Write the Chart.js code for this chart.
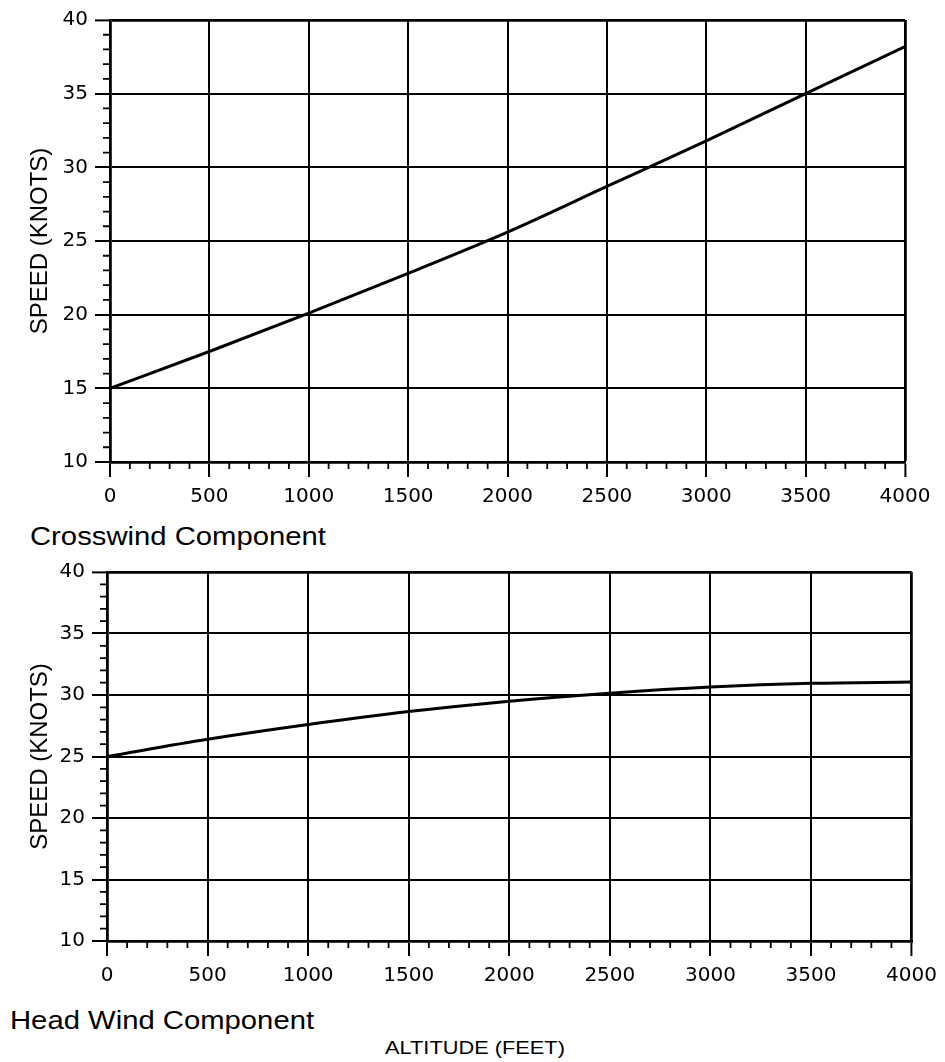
<!DOCTYPE html>
<html>
<head>
<meta charset="utf-8">
<script src="https://cdn.jsdelivr.net/npm/chart.js@4.4.1/dist/chart.umd.min.js"></script>
<style>
  html, body { margin: 0; padding: 0; background: #fff; }
  body { width: 945px; height: 1062px; position: relative; overflow: hidden;
         font-family: "Liberation Sans", Arial, sans-serif; color: #000; }
  canvas { position: absolute; left: 0; }
  #crosswind { top: 0; }
  #headwind { top: 540px; }
  .caption { position: absolute; white-space: nowrap; line-height: 1; transform-origin: 0 50%; }
  #cap1 { left: 30px; top: 524px; font-size: 25px; transform: scaleX(1.17); }
  #cap2 { left: 10px; top: 1008px; font-size: 25px; transform: scaleX(1.17); }
  #xtitle { left: 385px; top: 1039px; font-size: 18px; transform: scaleX(1.21); }
</style>
</head>
<body>
<canvas id="crosswind" width="945" height="520"></canvas>
<div class="caption" id="cap1">Crosswind Component</div>
<canvas id="headwind" width="945" height="460"></canvas>
<div class="caption" id="cap2">Head Wind Component</div>
<div class="caption" id="xtitle">ALTITUDE (FEET)</div>

<script>
// Altitude samples (feet) and the wind speeds (knots) read at each one
const altitudeFt  = [0, 500, 1000, 1500, 2000, 2500, 3000, 3500, 4000];
const crosswindKt = [15.0, 17.5, 20.1, 22.8, 25.6, 28.7, 31.8, 35.0, 38.2];
const headwindKt  = [25.0, 26.4, 27.6, 28.65, 29.5, 30.15, 30.65, 30.95, 31.05];

// Labelled axis ticks
const speedTicks    = [10, 15, 20, 25, 30, 35, 40];
const altitudeTicks = [0, 500, 1000, 1500, 2000, 2500, 3000, 3500, 4000];

// Unlabelled minor tick spacing
const speedMinorStep    = 1;
const altitudeMinorStep = 100;

const INK = '#000';

// Short unlabelled ticks between the labelled ones, outside the plot frame
const minorTicks = {
  id: 'minorTicks',
  afterDraw(chart, args, opts) {
    const { ctx, chartArea, scales: { x, y } } = chart;
    ctx.save();
    ctx.strokeStyle = INK;
    ctx.lineWidth = opts.width;
    ctx.beginPath();
    for (let v = y.min + speedMinorStep; v < y.max; v += speedMinorStep) {
      if (speedTicks.includes(v)) continue;
      const py = y.getPixelForValue(v);
      ctx.moveTo(chartArea.left - opts.length, py);
      ctx.lineTo(chartArea.left, py);
    }
    for (let v = x.min + altitudeMinorStep; v < x.max; v += altitudeMinorStep) {
      if (altitudeTicks.includes(v)) continue;
      const px = x.getPixelForValue(v);
      ctx.moveTo(px, chartArea.bottom);
      ctx.lineTo(px, chartArea.bottom + opts.length);
    }
    ctx.stroke();
    ctx.restore();
  }
};

function gridWidth(max) {
  return c => (c.tick && c.tick.value === max) ? 2.8 : 2.0;
}

function buildChart(id, speeds, frame) {
  const points = altitudeFt.map((a, i) => ({ x: a, y: speeds[i] }));
  return new Chart(document.getElementById(id), {
    type: 'line',
    data: {
      datasets: [{
        data: points,
        borderColor: INK,
        borderWidth: 3,
        pointRadius: 0,
        cubicInterpolationMode: 'monotone',
        fill: false
      }]
    },
    options: {
      responsive: false,
      animation: false,
      devicePixelRatio: 1,
      layout: { padding: { top: frame.top, right: frame.right, bottom: 0, left: 0 } },
      plugins: {
        legend: { display: false },
        tooltip: { enabled: false },
        minorTicks: { length: 7, width: 1.8 }
      },
      scales: {
        x: {
          type: 'linear',
          min: 0,
          max: 4000,
          afterBuildTicks: s => { s.ticks = altitudeTicks.map(v => ({ value: v })); },
          afterFit: s => { s.height = frame.xHeight; },
          grid: { color: INK, lineWidth: gridWidth(4000), tickLength: 15, tickWidth: 2, tickColor: INK },
          border: { display: true, color: INK, width: 2.8 },
          ticks: {
            color: INK,
            padding: 8,
            maxRotation: 0,
            autoSkip: false,
            font: { family: 'DejaVu Sans', size: 20 },
            callback: v => String(v)
          }
        },
        y: {
          min: 10,
          max: 40,
          afterBuildTicks: s => { s.ticks = speedTicks.map(v => ({ value: v })); },
          afterFit: s => { s.width = frame.yWidth; },
          grid: { color: INK, lineWidth: gridWidth(40), tickLength: 15, tickWidth: 2, tickColor: INK },
          border: { display: true, color: INK, width: 2.8 },
          title: {
            display: true,
            text: 'SPEED (KNOTS)',
            color: INK,
            font: { family: 'Liberation Sans', size: 24 },
            padding: { top: 26, bottom: 0 }
          },
          ticks: {
            color: INK,
            padding: 7,
            autoSkip: false,
            font: { family: 'DejaVu Sans', size: 20 },
            callback: v => String(v)
          }
        }
      }
    },
    plugins: [minorTicks]
  });
}

buildChart('crosswind', crosswindKt, { top: 20, right: 40, xHeight: 58, yWidth: 110 });
buildChart('headwind',  headwindKt,  { top: 32, right: 31, xHeight: 59, yWidth: 107 });
</script>
</body>
</html>
